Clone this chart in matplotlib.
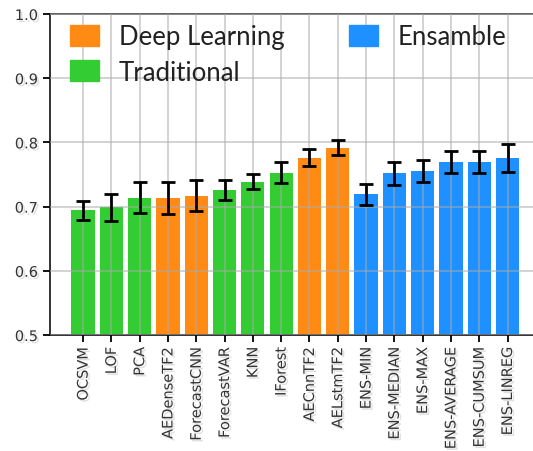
import matplotlib
matplotlib.use("Agg")
import matplotlib.pyplot as plt
import matplotlib.patheffects as pe
from matplotlib.patches import Patch

# model names, mean scores and spread, grouped by family
models = ["OCSVM", "LOF", "PCA", "AEDenseTF2", "ForecastCNN", "ForecastVAR",
          "KNN", "IForest", "AECnnTF2", "AELstmTF2", "ENS-MIN", "ENS-MEDIAN",
          "ENS-MAX", "ENS-AVERAGE", "ENS-CUMSUM", "ENS-LINREG"]
scores = [0.694, 0.699, 0.714, 0.714, 0.717, 0.726, 0.739, 0.753,
          0.776, 0.792, 0.719, 0.752, 0.756, 0.769, 0.769, 0.776]
errors = [0.015, 0.021, 0.024, 0.025, 0.024, 0.016, 0.012, 0.016,
          0.013, 0.011, 0.016, 0.018, 0.017, 0.017, 0.017, 0.022]
family = ["trad", "trad", "trad", "dl", "dl", "trad", "trad", "trad",
          "dl", "dl", "ens", "ens", "ens", "ens", "ens", "ens"]

colors = {"dl": "#ff8a14", "trad": "#33cc33", "ens": "#1e90ff"}
labels = {"dl": "Deep Learning", "trad": "Traditional", "ens": "Ensamble"}

shadow = [pe.SimplePatchShadow(offset=(1.5, -1.5), shadow_rgbFace="#999999", alpha=0.3),
          pe.Normal()]

fig = plt.figure(figsize=(5.33, 4.52), dpi=100)
ax = fig.add_axes([0.0938, 0.2566, 0.938, 0.7102])

x = list(range(len(models)))
ax.bar(x, scores, width=0.82, color=[colors[f] for f in family], zorder=1)
ax.errorbar(x, scores, yerr=errors, fmt="none", ecolor="black",
            elinewidth=2, capsize=5, capthick=2, zorder=3)

ax.set_ylim(0.5, 1.0)
ax.set_xlim(-1.17, 16.5)
ax.set_yticks([0.5, 0.6, 0.7, 0.8, 0.9, 1.0])
ax.set_xticks(x)
ax.set_xticklabels(models, rotation=90)
ax.grid(True, color="#aaaaaa", alpha=0.6, linewidth=1.2, zorder=2)
ax.set_axisbelow(False)

for s in ["left", "bottom", "top"]:
    ax.spines[s].set_linewidth(1.3)
    ax.spines[s].set_color("#222222")
ax.spines["top"].set_color("#555555")
ax.tick_params(axis="both", direction="out", length=5, width=1.3,
               labelsize=10.5, labelcolor="#333333")
for t in ax.get_xticklabels() + ax.get_yticklabels():
    t.set_path_effects(shadow)

handles = [Patch(color=colors["dl"]), Patch(color=colors["trad"]), Patch(color=colors["ens"])]
leg = ax.legend(handles, [labels["dl"], labels["trad"], labels["ens"]], ncol=2,
                loc="upper left", frameon=False,
                prop={"family": "Lato", "size": 18.5},
                handlelength=1.13, handleheight=0.85, handletextpad=0.77,
                columnspacing=2.5, borderpad=0.0, labelspacing=0.4,
                borderaxespad=0.0, bbox_to_anchor=(0.04, 0.968))
for t in leg.get_texts():
    t.set_color("#222222")

fig.savefig("out.png", dpi=100)
